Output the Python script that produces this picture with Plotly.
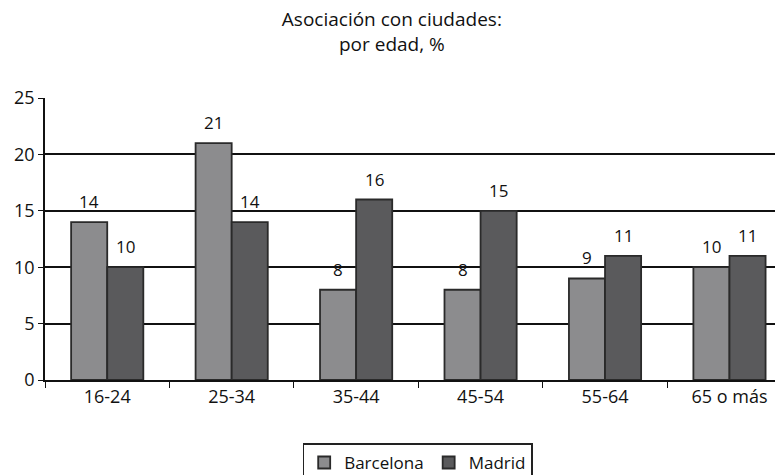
import plotly.graph_objects as go

categories = ["16-24", "25-34", "35-44", "45-54", "55-64", "65 o más"]
barcelona = [14, 21, 8, 8, 9, 10]
madrid = [10, 14, 16, 15, 11, 11]
y_ticks = [0, 5, 10, 15, 20, 25]
title_lines = ["Asociación con ciudades:", "por edad, %"]

FONT = "Open Sans, Noto Sans, sans-serif"
# page body has an 8px default margin; figure sized to fit the window
W, H = 775, 467
PLOT_TOP, PLOT_BOTTOM, PLOT_LEFT = 90, 372, 37
BARGAP = 0.42
half = (1 - BARGAP) / 4  # offset of each bar center from category center

fig = go.Figure()
fig.add_trace(go.Bar(
    name="Barcelona", x=categories, y=barcelona,
    marker=dict(color="#8c8c8e", line=dict(color="#2a2a2a", width=1.8)),
))
fig.add_trace(go.Bar(
    name="Madrid", x=categories, y=madrid,
    marker=dict(color="#5a5a5c", line=dict(color="#2a2a2a", width=1.8)),
))

for series, sign in ((barcelona, -1), (madrid, 1)):
    for i, v in enumerate(series):
        fig.add_annotation(text=str(v), x=i + sign * half, y=v, xref="x", yref="y",
                           xanchor="center", yanchor="bottom", yshift=7, showarrow=False,
                           font=dict(size=17, family=FONT, color="#111"))

# second title line as annotation
fig.add_annotation(text=title_lines[1], xref="paper", yref="paper", x=0.47,
                   y=(PLOT_BOTTOM - 36) / (PLOT_BOTTOM - PLOT_TOP),
                   xanchor="center", yanchor="middle", showarrow=False,
                   font=dict(size=19, family=FONT, color="#111"))

fig.update_layout(
    width=W, height=H,
    margin=dict(l=PLOT_LEFT, r=0, t=PLOT_TOP, b=H - PLOT_BOTTOM, autoexpand=False),
    paper_bgcolor="white", plot_bgcolor="white",
    font=dict(family=FONT, size=17, color="#111"),
    title=dict(text=title_lines[0], xref="paper", x=0.47, xanchor="center",
               yref="container", y=1 - 11 / H, yanchor="middle",
               font=dict(size=19, family=FONT, color="#111")),
    barmode="group", bargap=BARGAP, bargroupgap=0,
    showlegend=True,
    legend=dict(orientation="h", x=0.505, xanchor="center", y=-0.225, yanchor="top",
                bordercolor="#222", borderwidth=1.5, font=dict(size=17),
                itemwidth=30, traceorder="normal", tracegroupgap=0),
)
fig.update_xaxes(
    range=[-0.5, 5.43], showline=True, linecolor="#111", linewidth=1.5,
    ticks="outside", tickson="boundaries", ticklen=6, tickcolor="#111",
    showgrid=False, tickfont=dict(size=18), fixedrange=True,
)
fig.update_yaxes(
    range=[0, 25], tickvals=y_ticks, showline=True, linecolor="#111", linewidth=1.5,
    ticks="outside", ticklen=5, tickcolor="#111",
    showgrid=True, gridcolor="#111", gridwidth=1.5, zeroline=False,
    tickfont=dict(size=18), fixedrange=True,
)

fig.write_html("out.html")
